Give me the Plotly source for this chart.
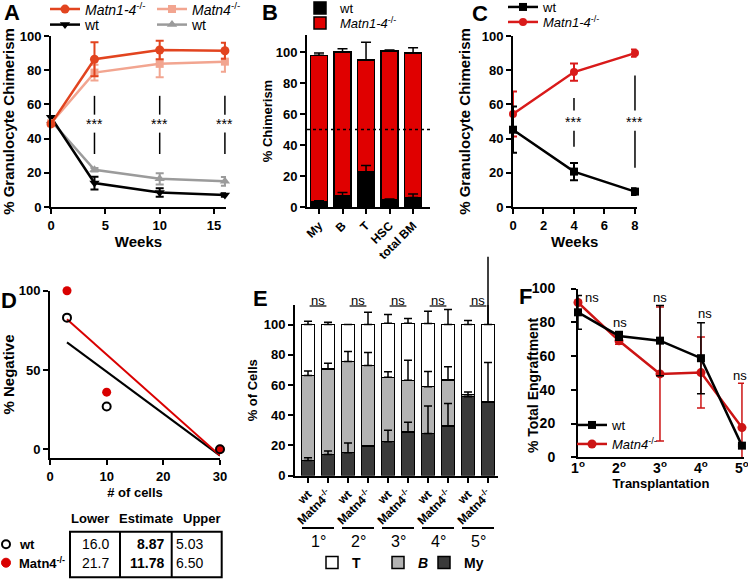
import plotly.graph_objects as go

W, H = 748, 580
FONT = "Liberation Sans"

# ---------------- DATA ----------------
# Panel A: granulocyte chimerism over time
a_weeks = [0, 4, 10, 16]
a_matn14 = [48.6, 86.4, 91.8, 91.4]
a_matn14_err = [0, 10.0, 5.4, 4.7]
a_matn4 = [49.0, 78.6, 83.7, 85.0]
a_matn4_err = [0, 4.6, 7.8, 5.9]
a_wt_black = [52.5, 14.0, 8.5, 7.0]
a_wt_black_err = [0, 3.7, 2.5, 1.0]
a_wt_gray = [50.5, 21.8, 16.5, 15.0]
a_wt_gray_err = [0, 1.0, 3.3, 2.5]
a_sig_weeks = [4, 10, 16]
a_xticks = [0, 5, 10, 15]

# Panel B: chimerism per lineage
b_cats = ["My", "B", "T", "HSC", "total BM"]
b_wt = [3.6, 7.3, 22.5, 4.7, 6.2]
b_wt_err = [0.5, 2.1, 4.3, 0.4, 2.2]
b_matn = [94.3, 92.7, 72.5, 95.9, 93.2]
b_matn_err = [1.5, 2.2, 11.3, 0.7, 3.4]

# Panel C
c_weeks = [0, 4, 8]
c_wt = [45.2, 20.7, 9.0]
c_wt_err = [13.5, 5.0, 2.0]
c_matn = [54.4, 78.9, 90.0]
c_matn_err = [13.2, 5.0, 2.1]
c_sig_weeks = [4, 8]

# Panel D: limiting dilution
d_cells = [3, 10, 30]
d_wt = [83, 27, 0]
d_matn4 = [100, 36, 0]
d_fit_x = [3, 30]
d_fit_wt = [67.4, -4.0]
d_fit_matn4 = [82.0, -4.0]
d_table_cols = ["Lower", "Estimate", "Upper"]
d_table_rows = ["wt", "Matn4<sup>-/-</sup>"]
d_table_lower = ["16.0", "21.7"]
d_table_est = ["8.87", "11.78"]
d_table_upper = ["5.03", "6.50"]

# Panel E: lineage composition per transplantation
e_groups = ["1°", "2°", "3°", "4°", "5°"]
e_ticks = ["wt", "Matn4<sup>-/-</sup>"] * 5
e_my = [10.0, 14.0, 15.1, 19.6, 22.4, 28.9, 27.8, 32.9, 52.2, 48.7]
e_my_err = [1.8, 2.2, 6.5, 0, 7.6, 6.4, 18.2, 14.9, 3.1, 26.2]
e_b = [56.2, 56.7, 60.5, 53.3, 42.7, 34.2, 31.1, 30.4, 1.4, 0]
e_b_err = [3.1, 3.7, 6.6, 8.7, 3.6, 13.3, 10.0, 8.7, 0, 0]
e_t = [33.8, 29.3, 24.4, 27.1, 35.8, 37.8, 41.8, 36.7, 46.4, 51.3]
e_t_err = [2.2, 1.6, 0, 8.2, 5.8, 3.1, 8.2, 10.0, 2.7, 45.0]

# Panel F: total engraftment
f_rounds = [1, 2, 3, 4, 5]
f_ticks = ["1<sup>o</sup>", "2<sup>o</sup>", "3<sup>o</sup>", "4<sup>o</sup>", "5<sup>o</sup>"]
f_wt = [85.9, 71.9, 69.1, 58.7, 6.9]
f_wt_err = [10.0, 2.6, 20.8, 21.0, 0.5]
f_matn4 = [91.7, 69.0, 49.4, 50.2, 17.6]
f_matn4_err = [1.0, 2.0, 39.7, 21.0, 26.3]

# ---------------- COLOURS ----------------
ORANGE = "#E2441F"
SALMON = "#F2A590"
GRAY = "#9B9B9B"
RED_B = "#E00000"
RED_C = "#D91A1A"
RED_D = "#D90000"
RED_F = "#CC1414"
DARK = "#3A3A3A"
MIDGRAY = "#B3B3B3"


def xdom(a, b):
    return [a / W, b / W]


def ydom(top, bottom):
    return [1 - bottom / H, 1 - top / H]


fig = go.Figure()

# ---------------- PANEL A ----------------
def a_trace(y, err, color, symbol, size, name, leg):
    return go.Scatter(
        x=a_weeks, y=y, mode="lines+markers", name=name, legend=leg,
        line=dict(color=color, width=2.5),
        marker=dict(symbol=symbol, size=size, color=color),
        error_y=dict(type="data", array=err, color=color, thickness=2, width=4),
        xaxis="x", yaxis="y", cliponaxis=False, hoverinfo="skip")

fig.add_trace(a_trace(a_wt_gray, a_wt_gray_err, GRAY, "triangle-up", 9, "wt", "legend4"))
fig.add_trace(a_trace(a_wt_black, a_wt_black_err, "black", "triangle-down", 9, "wt", "legend3"))
fig.add_trace(a_trace(a_matn4, a_matn4_err, SALMON, "square", 8, "<i>Matn4</i><sup>-/-</sup>", "legend2"))
fig.add_trace(a_trace(a_matn14, a_matn14_err, ORANGE, "circle", 9, "<i>Matn1-4</i><sup>-/-</sup>", "legend"))

# ---------------- PANEL B ----------------
b_x = list(range(len(b_cats)))
fig.add_trace(go.Bar(x=b_x, y=b_wt, width=0.72, name="wt", legend="legend5",
                     marker=dict(color="black", line=dict(color="black", width=1.5)),
                     xaxis="x2", yaxis="y2", hoverinfo="skip"))
fig.add_trace(go.Bar(x=b_x, y=b_matn, width=0.72, name="<i>Matn1-4</i><sup>-/-</sup>", legend="legend6",
                     marker=dict(color=RED_B, line=dict(color="black", width=1.5)),
                     xaxis="x2", yaxis="y2", hoverinfo="skip"))
b_tops = [w + m for w, m in zip(b_wt, b_matn)]
for ys, errs in ((b_wt, b_wt_err), (b_tops, b_matn_err)):
    fig.add_trace(go.Scatter(x=b_x, y=ys, mode="markers", showlegend=False,
                             marker=dict(size=1, color="rgba(0,0,0,0)"),
                             error_y=dict(type="data", symmetric=False, array=errs,
                                          arrayminus=[0] * len(errs), color="black",
                                          thickness=1.5, width=5),
                             xaxis="x2", yaxis="y2", hoverinfo="skip"))

# ---------------- PANEL C ----------------
fig.add_trace(go.Scatter(x=c_weeks, y=c_matn, mode="lines+markers", name="<i>Matn1-4</i><sup>-/-</sup>",
                         legend="legend8", line=dict(color=RED_C, width=2.5),
                         marker=dict(symbol="circle", size=8, color=RED_C),
                         error_y=dict(type="data", array=c_matn_err, color=RED_C, thickness=2, width=4),
                         xaxis="x3", yaxis="y3", cliponaxis=False, hoverinfo="skip"))
fig.add_trace(go.Scatter(x=c_weeks, y=c_wt, mode="lines+markers", name="wt",
                         legend="legend7", line=dict(color="black", width=2.5),
                         marker=dict(symbol="square", size=8, color="black"),
                         error_y=dict(type="data", array=c_wt_err, color="black", thickness=2, width=4),
                         xaxis="x3", yaxis="y3", cliponaxis=False, hoverinfo="skip"))

# ---------------- PANEL D ----------------
fig.add_trace(go.Scatter(x=d_fit_x, y=d_fit_wt, mode="lines", showlegend=False,
                         line=dict(color="black", width=2), xaxis="x4", yaxis="y4", hoverinfo="skip"))
fig.add_trace(go.Scatter(x=d_fit_x, y=d_fit_matn4, mode="lines", showlegend=False,
                         line=dict(color=RED_D, width=2), xaxis="x4", yaxis="y4", hoverinfo="skip"))
fig.add_trace(go.Scatter(x=d_cells, y=d_matn4, mode="markers", showlegend=False,
                         marker=dict(symbol="circle", size=9, color=RED_D),
                         xaxis="x4", yaxis="y4", cliponaxis=False, hoverinfo="skip"))
fig.add_trace(go.Scatter(x=d_cells, y=d_wt, mode="markers", showlegend=False,
                         marker=dict(symbol="circle-open", size=8, color="black", line=dict(width=2)),
                         xaxis="x4", yaxis="y4", cliponaxis=False, hoverinfo="skip"))

# ---------------- PANEL E ----------------
e_x = list(range(len(e_ticks)))
fig.add_trace(go.Bar(x=e_x, y=e_my, width=0.66, name="My", legend="legend11",
                     marker=dict(color=DARK, line=dict(color="black", width=1.5)),
                     xaxis="x5", yaxis="y5", hoverinfo="skip"))
fig.add_trace(go.Bar(x=e_x, y=e_b, width=0.66, name="<i>B</i>", legend="legend10",
                     marker=dict(color=MIDGRAY, line=dict(color="black", width=1.5)),
                     xaxis="x5", yaxis="y5", hoverinfo="skip"))
fig.add_trace(go.Bar(x=e_x, y=e_t, width=0.66, name="T", legend="legend9",
                     marker=dict(color="white", line=dict(color="black", width=1.5)),
                     xaxis="x5", yaxis="y5", hoverinfo="skip"))
e_top_my = list(e_my)
e_top_b = [m + b for m, b in zip(e_my, e_b)]
e_top_t = [m + b + t for m, b, t in zip(e_my, e_b, e_t)]
for ys, errs in ((e_top_my, e_my_err), (e_top_b, e_b_err), (e_top_t, e_t_err)):
    fig.add_trace(go.Scatter(x=e_x, y=ys, mode="markers", showlegend=False,
                             marker=dict(size=1, color="rgba(0,0,0,0)"),
                             error_y=dict(type="data", symmetric=False, array=errs,
                                          arrayminus=[0] * len(errs), color="black",
                                          thickness=1.5, width=4),
                             xaxis="x5", yaxis="y5", hoverinfo="skip"))

# ---------------- PANEL F ----------------
fig.add_trace(go.Scatter(x=f_rounds, y=f_matn4, mode="lines+markers", name="<i>Matn4</i><sup>-/-</sup>",
                         legend="legend13", line=dict(color=RED_F, width=2.5),
                         marker=dict(symbol="circle", size=9, color=RED_F),
                         error_y=dict(type="data", array=f_matn4_err, color=RED_F, thickness=1.5, width=4),
                         xaxis="x6", yaxis="y6", cliponaxis=False, hoverinfo="skip"))
fig.add_trace(go.Scatter(x=f_rounds, y=f_wt, mode="lines+markers", name="wt",
                         legend="legend12", line=dict(color="black", width=2.5),
                         marker=dict(symbol="square", size=8, color="black"),
                         error_y=dict(type="data", array=f_wt_err, color="black", thickness=1.5, width=4),
                         xaxis="x6", yaxis="y6", cliponaxis=False, hoverinfo="skip"))

# ---------------- AXES ----------------
def ax(**kw):
    base = dict(showline=True, linecolor="black", linewidth=2, ticks="outside", ticklen=5,
                tickwidth=2, tickcolor="black", showgrid=False, zeroline=False, automargin=False,
                tickfont=dict(family=FONT, size=13, color="black", weight="bold"),
                ticklabeloverflow="allow", fixedrange=True)
    tf = kw.pop("tfont", 13)
    title = kw.pop("ttl", None)
    standoff = kw.pop("standoff", 4)
    if title is not None:
        base["title"] = dict(text=title, standoff=standoff,
                             font=dict(family=FONT, size=tf, color="black", weight="bold"))
    base.update(kw)
    return base

A_Y = ydom(36, 207)
F_Y = ydom(288.5, 457.3)
fig.update_layout(
    xaxis=ax(domain=xdom(51, 226), range=[0, 16.1], tickvals=a_xticks, anchor="y", ttl="Weeks", tfont=15, standoff=4),
    yaxis=ax(domain=A_Y, range=[0, 100], dtick=20, anchor="x", ttl="% Granulocyte Chimerism", tfont=15, standoff=3),
    xaxis2=ax(domain=xdom(307, 430), range=[-0.51, 4.72], tickvals=b_x, ticktext=b_cats, tickangle=-45,
              tickfont=dict(family=FONT, size=12, color="black", weight="bold"), anchor="y2"),
    yaxis2=ax(domain=ydom(35, 207), range=[0, 111], tickvals=[0, 20, 40, 60, 80, 100], anchor="x2",
              ttl="% Chimerism", tfont=13, standoff=0),
    xaxis3=ax(domain=xdom(513, 636.5), range=[0, 8.1], tickvals=[0, 2, 4, 6, 8], anchor="y3",
              ttl="Weeks", tfont=15, standoff=3),
    yaxis3=ax(domain=A_Y, range=[0, 100], dtick=20, anchor="x3", ttl="% Granulocyte Chimerism", tfont=15, standoff=7),
    xaxis4=ax(domain=xdom(50, 220), range=[0, 30], tickvals=[0, 10, 20, 30], anchor="y4",
              ttl="# of cells", tfont=13, standoff=5),
    yaxis4=ax(domain=ydom(290.7, 458.3), range=[-5.7, 100], tickvals=[0, 50, 100], anchor="x4",
              ttl="% Negative", tfont=15, standoff=8),
    xaxis5=ax(domain=xdom(295, 498), range=[-0.65, 9.5], tickvals=e_x, ticktext=e_ticks, tickangle=-45,
              tickfont=dict(family=FONT, size=12, color="black", weight="bold"), anchor="y5"),
    yaxis5=ax(domain=ydom(305, 475.5), range=[0, 113], tickvals=[0, 20, 40, 60, 80, 100], anchor="x5",
              ttl="% of Cells", tfont=13, standoff=3),
    xaxis6=ax(domain=xdom(578, 744), range=[1, 5.05], tickvals=f_rounds, ticktext=f_ticks, ticks="",
              tickfont=dict(family=FONT, size=14, color="black", weight="bold"), anchor="y6",
              ticklabelstandoff=-3, ttl="Transplantation", tfont=13, standoff=1),
    yaxis6=ax(domain=F_Y, range=[0, 100], dtick=20, anchor="x6",
              tickfont=dict(family=FONT, size=14, color="black", weight="bold"),
              ticklabelstandoff=13),
)

# ---------------- LEGENDS ----------------
def leg(px_left, py, size=14, bold=False):
    f = dict(family=FONT, size=size, color="black")
    if bold:
        f["weight"] = "bold"
    return dict(x=px_left / W, y=1 - py / H, xanchor="left", yanchor="middle",
                bgcolor="rgba(0,0,0,0)", borderwidth=0, orientation="v", font=f)

fig.update_layout(
    legend=leg(45, 9.5, 14), legend2=leg(152, 9.5, 14),
    legend3=leg(45, 25, 14), legend4=leg(152, 25, 14),
    legend5=leg(300, 8, 13), legend6=leg(300, 23, 13),
    legend7=leg(503, 7, 13), legend8=leg(503, 22, 13),
    legend9=leg(312, 563, 14, True), legend10=leg(378, 563, 14, True), legend11=leg(424, 563, 14, True),
    legend12=leg(572, 425, 13), legend13=leg(572, 444, 13),
)

# ---------------- ANNOTATIONS & SHAPES ----------------
annotations = []
shapes = []

def letter(txt, px, py):
    annotations.append(dict(text=txt, x=px / W, y=1 - py / H, xref="paper", yref="paper",
                            showarrow=False, xanchor="center", yanchor="middle",
                            font=dict(family=FONT, size=22, color="black", weight="bold")))

for t, px, py in (("A", 12, 12.5), ("B", 270, 12.5), ("C", 480, 13.5), ("D", 9, 300), ("E", 260, 298), ("F", 525, 296)):
    letter(t, px, py)

# F y-axis title (placed like the original, tight to the panel letter)
annotations.append(dict(text="% Total Engraftment", x=533 / W, y=1 - 386 / H, xref="paper", yref="paper",
                        showarrow=False, textangle=-90, xanchor="center", yanchor="middle",
                        font=dict(family=FONT, size=14, color="black", weight="bold")))

# significance markers A
for wk in a_sig_weeks:
    shapes.append(dict(type="line", xref="x", yref="y", x0=wk, x1=wk, y0=65, y1=54,
                       line=dict(color="black", width=1.5)))
    shapes.append(dict(type="line", xref="x", yref="y", x0=wk, x1=wk, y0=43.5, y1=31,
                       line=dict(color="black", width=1.5)))
    annotations.append(dict(text="***", x=wk, y=48.5, xref="x", yref="y", showarrow=False,
                            font=dict(family=FONT, size=14, color="black")))
# significance markers C
for wk, top, bot in zip(c_sig_weeks, [63.8, 76.9], [35.2, 23.0]):
    shapes.append(dict(type="line", xref="x3", yref="y3", x0=wk, x1=wk, y0=top, y1=56.5,
                       line=dict(color="black", width=1.5)))
    shapes.append(dict(type="line", xref="x3", yref="y3", x0=wk, x1=wk, y0=44.6, y1=bot,
                       line=dict(color="black", width=1.5)))
    annotations.append(dict(text="***", x=wk, y=50, xref="x3", yref="y3", showarrow=False,
                            font=dict(family=FONT, size=14, color="black")))

# B dotted 50% line
shapes.append(dict(type="line", xref="x2 domain", yref="y2", x0=0, x1=1, y0=50, y1=50,
                   line=dict(color="black", width=1.5, dash="dot")))

# E: ns labels, group lines, group labels, overflowing error bar
e_rng = [-0.65, 9.5]
for gi, g in enumerate(e_groups):
    cx = 2 * gi + 0.5
    annotations.append(dict(text="ns", x=cx, y=1 - 300 / H, xref="x5", yref="paper", showarrow=False,
                            yanchor="middle", font=dict(family=FONT, size=13, color="black")))
    shapes.append(dict(type="line", xref="x5", yref="paper", x0=cx - 0.42, x1=cx + 0.42,
                       y0=1 - 306 / H, y1=1 - 306 / H, line=dict(color="black", width=1.2)))
    shapes.append(dict(type="line", xref="x5", yref="paper", x0=cx - 0.8, x1=cx + 0.8,
                       y0=1 - 528 / H, y1=1 - 528 / H, line=dict(color="black", width=2)))
    annotations.append(dict(text=g, x=cx, y=1 - 541 / H, xref="x5", yref="paper", showarrow=False,
                            yanchor="middle", font=dict(family=FONT, size=16, color="black")))
last = len(e_x) - 1
fx = (e_x[last] - e_rng[0]) / (e_rng[1] - e_rng[0])
shapes.append(dict(type="line", xref="x5 domain", yref="y5 domain", x0=fx, x1=fx,
                   y0=e_top_t[last] / 113, y1=(e_top_t[last] + e_t_err[last]) / 113,
                   line=dict(color="black", width=1.5)))

# F: ns labels
for px, py in ((592, 297), (620, 323), (660, 297), (705, 313), (740, 375)):
    annotations.append(dict(text="ns", x=px / W, y=1 - py / H, xref="paper", yref="paper",
                            showarrow=False, xanchor="center", yanchor="middle",
                            font=dict(family=FONT, size=13, color="black")))

# D table
tl, tr, tt, tb = 70, 221.7, 531.7, 577.3
shapes.append(dict(type="rect", xref="paper", yref="paper", x0=tl / W, x1=tr / W, y0=1 - tb / H, y1=1 - tt / H,
                   line=dict(color="black", width=2)))
for vx in (120, 171.7):
    shapes.append(dict(type="line", xref="paper", yref="paper", x0=vx / W, x1=vx / W, y0=1 - tb / H, y1=1 - tt / H,
                       line=dict(color="black", width=2)))
for txt, cx in zip(d_table_cols, (90, 146, 201.7)):
    annotations.append(dict(text=txt, x=cx / W, y=1 - 518 / H, xref="paper", yref="paper", showarrow=False,
                            xanchor="center", yanchor="middle",
                            font=dict(family=FONT, size=13, color="black", weight="bold")))
for ri, ry in enumerate((544.3, 562.7)):
    annotations.append(dict(text=d_table_lower[ri], x=95 / W, y=1 - ry / H, xref="paper", yref="paper",
                            showarrow=False, xanchor="center", yanchor="middle",
                            font=dict(family=FONT, size=14, color="black")))
    annotations.append(dict(text="<b>" + d_table_est[ri] + "</b>", x=166 / W, y=1 - ry / H, xref="paper",
                            yref="paper", showarrow=False, xanchor="right", yanchor="middle",
                            font=dict(family=FONT, size=14, color="black")))
    annotations.append(dict(text=d_table_upper[ri], x=173.5 / W, y=1 - ry / H, xref="paper", yref="paper",
                            showarrow=False, xanchor="left", yanchor="middle",
                            font=dict(family=FONT, size=14, color="black")))
    annotations.append(dict(text=d_table_rows[ri], x=17 / W, y=1 - ry / H, xref="paper", yref="paper",
                            showarrow=False, xanchor="left", yanchor="middle",
                            font=dict(family=FONT, size=13, color="black", weight="bold")))
# table key markers
shapes.append(dict(type="circle", xref="paper", yref="paper", x0=2 / W, x1=10 / W,
                   y0=1 - 548.3 / H, y1=1 - 540.3 / H, line=dict(color="black", width=2)))
shapes.append(dict(type="circle", xref="paper", yref="paper", x0=1.5 / W, x1=10.5 / W,
                   y0=1 - 567.2 / H, y1=1 - 558.2 / H, fillcolor=RED_D, line=dict(color=RED_D, width=1)))

fig.update_layout(
    template="none",
    width=W, height=H, margin=dict(l=0, r=0, t=0, b=0, pad=0, autoexpand=False),
    paper_bgcolor="white", plot_bgcolor="white",
    barmode="stack", showlegend=True,
    font=dict(family=FONT, color="black"),
    annotations=annotations, shapes=shapes,
)

fig.write_html("out.html", config={"displayModeBar": False},
               post_script="document.body.style.margin='0px';document.body.style.overflow='hidden';")
